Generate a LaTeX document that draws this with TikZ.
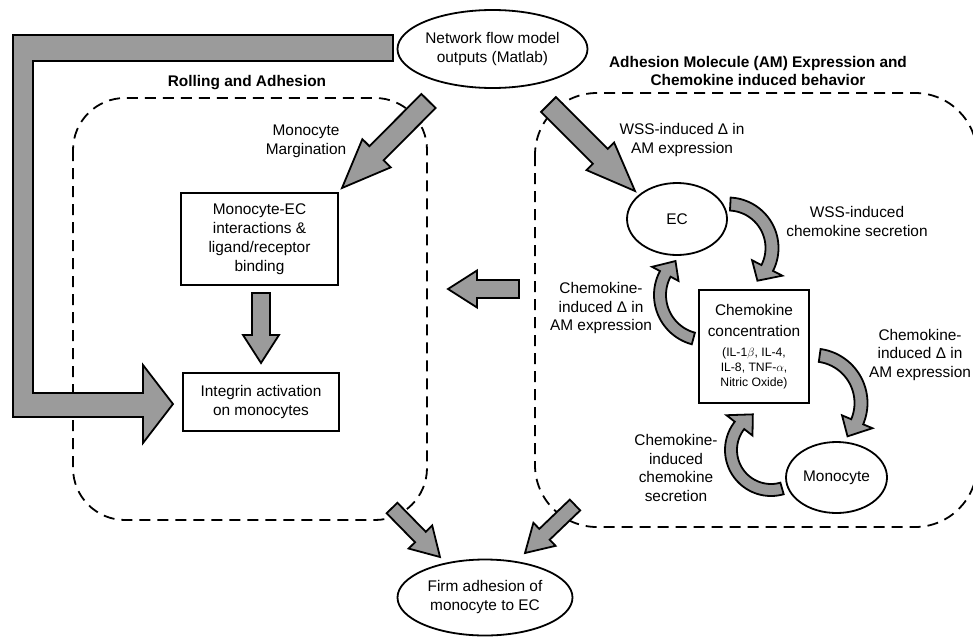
\documentclass[tikz,border=0pt]{standalone}
\usepackage{fontspec}
\setmainfont{Liberation Sans}
\usetikzlibrary{calc,shapes.geometric}
\definecolor{arrgray}{RGB}{155,155,155}
\newcommand{\lbl}{\fontsize{15.4}{19}\selectfont}
\newcommand{\lbm}{\fontsize{15.4}{18.5}\selectfont}
\newcommand{\sml}{\fontsize{12.2}{15}\selectfont}
% straight fat arrow: tail, tip, half shaft, half head, head length
\newcommand{\fatarrow}[5]{%
  \path ($(#2)!#5pt!(#1)$) coordinate (hb);
  \draw[fatarr] ($(#1)!#3pt!90:(#2)$) -- ($(hb)!#3pt!90:(#2)$) -- ($(hb)!#4pt!90:(#2)$) -- (#2)
    -- ($(hb)!#4pt!-90:(#2)$) -- ($(hb)!#3pt!-90:(#2)$) -- ($(#1)!#3pt!-90:(#2)$) -- cycle;}
% curved fat arrow: cx, cy, mid radius, start angle, end angle, half band, half head, head angle
\newcommand{\fatarc}[8]{%
  \draw[fatarr] plot[domain=#4:#5,samples=40] ({#1+(#3+#6)*cos(\x)},{#2+(#3+#6)*sin(\x)})
    -- ({#1+(#3+#7)*cos(#5)},{#2+(#3+#7)*sin(#5)})
    -- ({#1+#3*cos(#5+#8)},{#2+#3*sin(#5+#8)})
    -- ({#1+(#3-#7)*cos(#5)},{#2+(#3-#7)*sin(#5)})
    -- plot[domain=#5:#4,samples=40] ({#1+(#3-#6)*cos(\x)},{#2+(#3-#6)*sin(\x)}) -- cycle;}
\begin{document}
\begin{tikzpicture}[x=1pt,y=-1pt,
  fatarr/.style={draw=black,fill=arrgray,line width=1.8pt,line join=miter},
  box/.style={draw,line width=1.6pt,inner sep=0pt,align=center,font=\lbl},
  ell/.style={ellipse,draw,line width=1.8pt,inner sep=0pt,align=center,font=\lbl},
  txt/.style={inner sep=0pt,align=center,font=\lbl},
  dashbox/.style={draw,dash pattern=on 11pt off 7pt,line width=1.8pt}]
\useasboundingbox (0,0) rectangle (973,637);

% dashed regions
\draw[dashbox,rounded corners=52pt] (73,98) rectangle (427,520);
\draw[dashbox,rounded corners=62pt] (535,93) rectangle (977,527);

% titles
\node[txt,font=\lbl\bfseries] (roll) at (247,83) {Rolling and Adhesion};
\node[txt,font=\lbm\bfseries] (amt) at (758,71) {Adhesion Molecule (AM) Expression and\\Chemokine induced behavior};

% nodes
\node[ell,minimum width=175pt,minimum height=78pt] (net) at (492.5,49) {Network flow model\\outputs (Matlab)};
\node[box,minimum width=157pt,minimum height=92pt] (mec) at (259.5,239) {Monocyte-EC\\interactions \&\\ligand/receptor\\binding};
\node[box,minimum width=156pt,minimum height=58pt] (integ) at (261,402) {Integrin activation\\on monocytes};
\node[ell,minimum width=100pt,minimum height=72pt] (ec) at (677,219) {EC};
\node[box,minimum width=110pt,minimum height=113pt] (chem) at (754,346.5)
  {Chemokine\\[2pt]concentration\\[1pt]\sml (IL-1$\beta$, IL-4,\\[-4pt]\sml IL-8, TNF-$\alpha$,\\[-4pt]\sml Nitric Oxide)};
\node[ell,minimum width=101pt,minimum height=71pt] (mono) at (836.5,477.5) {Monocyte};
\node[ell,minimum width=175pt,minimum height=76pt] (firm) at (485,597.5) {Firm adhesion of\\monocyte to EC};

% labels
\node[txt] (lmarg) at (306,141.5) {Monocyte\\Margination};
\node[txt] (lwss1) at (682,140.5) {WSS-induced Δ in\\AM expression};
\node[txt] (lwss2) at (857,221.5) {WSS-induced\\chemokine secretion};
\node[txt,font=\lbm] (lck1) at (601,308.5) {Chemokine-\\induced Δ in\\AM expression};
\node[txt,font=\lbm] (lck2) at (920,355) {Chemokine-\\induced Δ in\\AM expression};
\node[txt,font=\lbm] (lck3) at (676,468) {Chemokine-\\induced\\chemokine\\secretion};

% big L-shaped arrow
\draw[fatarr] (393,35) -- (13,35) -- (13,417) -- (143,417) -- (143,443) -- (173,404)
  -- (143,365) -- (143,393) -- (33,393) -- (33,61) -- (393,61) -- cycle;

% straight arrows
\coordinate (mgT) at (428.5,101); \coordinate (mgH) at (342,188);
\fatarrow{mgT}{mgH}{10}{20}{49}
\coordinate (wsT) at (548.5,104.5); \coordinate (wsH) at (635,191);
\fatarrow{wsT}{wsH}{10.5}{19.5}{49}
\coordinate (dnT) at (261,293); \coordinate (dnH) at (261,363);
\fatarrow{dnT}{dnH}{9}{18}{28}
\coordinate (lfT) at (519,289); \coordinate (lfH) at (448,289);
\fatarrow{lfT}{lfH}{9}{18.5}{29}
\coordinate (blT) at (392,508); \coordinate (blH) at (440,557);
\fatarrow{blT}{blH}{7.5}{16.5}{28}
\coordinate (brT) at (575,505); \coordinate (brH) at (525,553);
\fatarrow{brT}{brH}{7.5}{16}{27}

% curved arrows
\fatarc{728}{248}{44}{-87}{27}{6.5}{17}{21}
\fatarc{705}{295}{45}{105}{208}{6}{15}{21}
\fatarc{813}{403}{48}{-82}{23}{6.5}{16.5}{21}
\fatarc{771}{450}{40}{74}{218}{6}{16.5}{25}
\end{tikzpicture}
\end{document}
